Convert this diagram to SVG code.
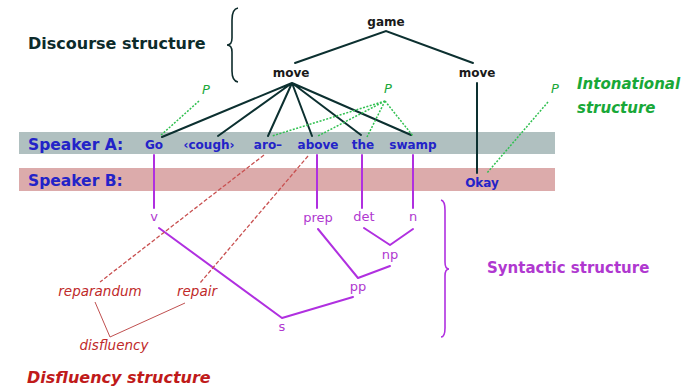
<svg xmlns="http://www.w3.org/2000/svg" width="690" height="392" viewBox="0 0 690 392">
  <style>
    .band-a { fill: #b0c0c0; }
    .band-b { fill: #dcabab; }
    .t { font-family: "DejaVu Sans", Verdana, sans-serif; text-anchor: middle; }
    .disc { font-weight: bold; fill: #1a1a1a; font-size: 12px; }
    .word { font-weight: bold; fill: #2323c8; font-size: 12px; }
    .spk { font-weight: bold; fill: #2323c8; font-size: 15.5px; text-anchor: start; }
    .syn { fill: #b038d0; font-size: 13px; }
    .dis { fill: #c02a2a; font-size: 13.5px; font-style: italic; }
    .pros { fill: #18a838; font-size: 13px; font-style: italic; }
    .head { font-size: 15px; font-weight: bold; text-anchor: start; }
    .head-l { font-size: 16px; }
    .tree { stroke: #0c3030; stroke-width: 2; fill: none; stroke-linecap: round; }
    .synl { stroke: #b030e0; stroke-width: 2; fill: none; stroke-linecap: round; stroke-linejoin: round; }
    .intl { stroke: #30c050; stroke-width: 1.5; fill: none; stroke-dasharray: 2 1.5; }
    .disl { stroke: #c85050; stroke-width: 1.3; fill: none; stroke-dasharray: 4 2; }
    .disj { stroke: #c05050; stroke-width: 1; fill: none; }
  </style>

  <!-- speaker bands -->
  <rect class="band-a" x="19" y="132" width="536" height="22"/>
  <rect class="band-b" x="19" y="168" width="536" height="23"/>

  <!-- section headings and braces -->
  <text class="t head head-l" x="28" y="49" fill="#0d2b2b">Discourse structure</text>
  <path d="M238,8 Q232,9 232,20 L232,38 Q232,45 227,45 Q232,45 232,52 L232,71 Q232,81 238,82" fill="none" stroke="#0d2b2b" stroke-width="1.6"/>
  <text class="t head" x="577" y="89" fill="#18a838" font-style="italic">Intonational</text>
  <text class="t head" x="577" y="113" fill="#18a838" font-style="italic">structure</text>
  <text class="t head" x="487" y="273" fill="#b038d0">Syntactic structure</text>
  <path d="M441,200 Q445,201 445,210 L445,262 Q445,269 449,269 Q445,269 445,276 L445,328 Q445,337 441,337" fill="none" stroke="#b030e0" stroke-width="1.6"/>
  <text class="t head head-l" x="27" y="383" fill="#c01a1a" font-style="italic">Disfluency structure</text>

  <!-- connectors -->
  <g id="connectors">
    <!-- discourse tree -->
    <path class="tree" d="M295,63 L386,31 L473,63"/>
    <path class="tree" d="M292,83 L162,137 M292,83 L218,136 M292,83 L268,136 M292,83 L312,136 M292,83 L361,135 M292,83 L411,135"/>
    <path class="tree" d="M477,83 L477,173"/>
    <!-- intonational phrases -->
    <path class="intl" d="M199,101 L160,136"/>
    <path class="intl" d="M385,101 L272,136 M385,101 L318,136 M385,101 L367,137 M385,101 L413,136"/>
    <path class="intl" d="M548,102 L487,173"/>
    <!-- syntactic tree -->
    <path class="synl" d="M154,155 L154,208 M317,155 L317,208 M362,155 L362,208 M413,155 L413,208"/>
    <path class="synl" d="M364,228 L390,245 L413,229"/>
    <path class="synl" d="M318,229 L358,278 L390,266"/>
    <path class="synl" d="M159,228 L282,318 L353,297"/>
    <!-- disfluency -->
    <path class="disl" d="M264,155 L100,282"/>
    <path class="disl" d="M308,156 L200,283"/>
    <path class="disj" d="M95,302 L110,337 L185,303"/>
  </g>

  <!-- discourse nodes -->
  <g id="game"><text class="t disc" x="386" y="26">game</text></g>
  <g id="move-a"><text class="t disc" x="291" y="77">move</text></g>
  <g id="move-b"><text class="t disc" x="477" y="77">move</text></g>

  <!-- intonational phrase nodes -->
  <g id="p-1"><text class="t pros" x="206" y="94">P</text></g>
  <g id="p-2"><text class="t pros" x="388" y="93">P</text></g>
  <g id="p-3"><text class="t pros" x="555" y="93">P</text></g>

  <!-- speakers and words -->
  <g id="speaker-a"><text class="t spk" x="28" y="150">Speaker A:</text></g>
  <g id="speaker-b"><text class="t spk" x="28" y="186">Speaker B:</text></g>
  <g id="w-go"><text class="t word" x="154" y="149">Go</text></g>
  <g id="w-cough"><text class="t word" x="209" y="149">‹cough›</text></g>
  <g id="w-aro"><text class="t word" x="268" y="149">aro–</text></g>
  <g id="w-above"><text class="t word" x="318" y="149">above</text></g>
  <g id="w-the"><text class="t word" x="363" y="149">the</text></g>
  <g id="w-swamp"><text class="t word" x="413" y="149">swamp</text></g>
  <g id="w-okay"><text class="t word" x="482" y="187">Okay</text></g>

  <!-- syntactic nodes -->
  <g id="s-v"><text class="t syn" x="154" y="221">v</text></g>
  <g id="s-prep"><text class="t syn" x="318" y="222">prep</text></g>
  <g id="s-det"><text class="t syn" x="364" y="221">det</text></g>
  <g id="s-n"><text class="t syn" x="413" y="221">n</text></g>
  <g id="s-np"><text class="t syn" x="390" y="259">np</text></g>
  <g id="s-pp"><text class="t syn" x="358" y="291">pp</text></g>
  <g id="s-s"><text class="t syn" x="282" y="331">s</text></g>

  <!-- disfluency nodes -->
  <g id="d-reparandum"><text class="t dis" x="100" y="296">reparandum</text></g>
  <g id="d-repair"><text class="t dis" x="197" y="296">repair</text></g>
  <g id="d-disfluency"><text class="t dis" x="114" y="350">disfluency</text></g>
</svg>
